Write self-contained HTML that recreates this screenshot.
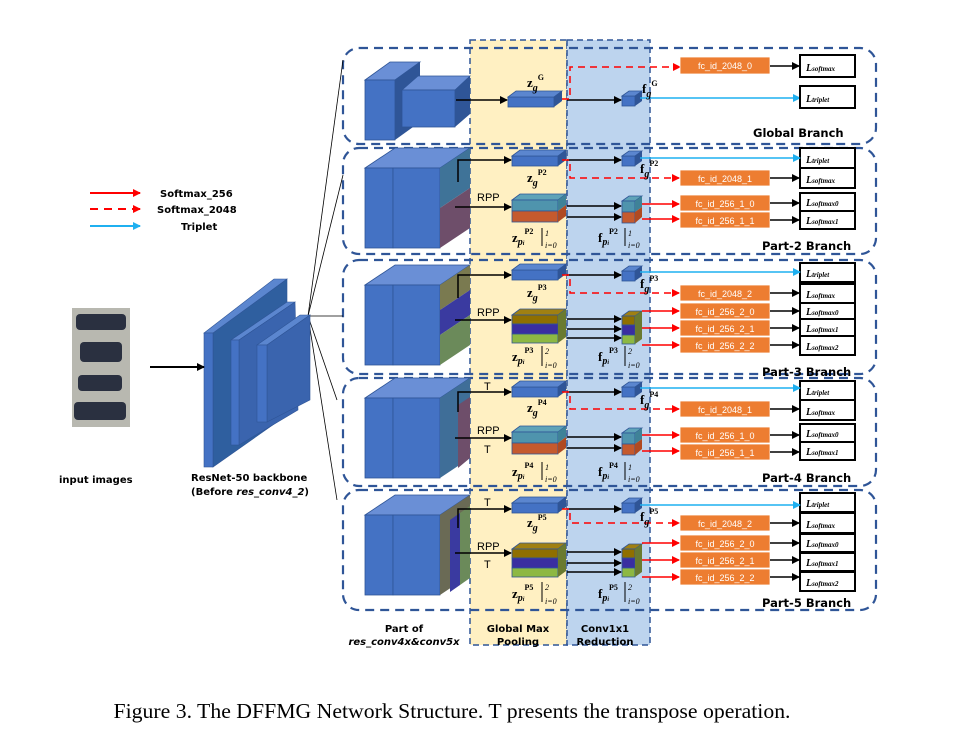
<!DOCTYPE html>
<html><head><meta charset="utf-8"><style>
html,body{margin:0;padding:0;background:#fff;}
svg{display:block;}
.b{font-family:"DejaVu Sans","Liberation Sans",sans-serif;font-weight:bold;}
.fc{font-family:"Liberation Sans",sans-serif;font-size:9px;fill:#fff;}
.m{font-family:"Liberation Serif",serif;font-weight:bold;font-style:italic;font-size:10px;}
.mz{font-family:"Liberation Serif",serif;font-weight:bold;font-size:13px;}
</style></head><body>
<svg width="955" height="739" viewBox="0 0 955 739" xmlns="http://www.w3.org/2000/svg">
<defs>
<marker id="ak" markerWidth="8" markerHeight="8" refX="7" refY="4" orient="auto" markerUnits="userSpaceOnUse"><path d="M0,0 L8,4 L0,8z" fill="#000"/></marker>
<marker id="ar" markerWidth="8" markerHeight="8" refX="7" refY="4" orient="auto" markerUnits="userSpaceOnUse"><path d="M0,0 L8,4 L0,8z" fill="#f00"/></marker>
<marker id="ac" markerWidth="8" markerHeight="8" refX="7" refY="4" orient="auto" markerUnits="userSpaceOnUse"><path d="M0,0 L8,4 L0,8z" fill="#1fb0f0"/></marker>
<g id="zg"><rect x="0" y="0" width="46" height="10" fill="#4472C4" stroke="#2F5597" stroke-width="0.8"/><polygon points="0,0 8,-6 54,-6 46,0" fill="#5b86cf" stroke="#2F5597" stroke-width="0.8"/><polygon points="46,0 54,-6 54,4 46,10" fill="#2F5597"/></g>
<g id="fg"><rect x="0" y="0" width="13" height="10" fill="#4472C4" stroke="#2F5597" stroke-width="0.8"/><polygon points="0,0 7,-5 20,-5 13,0" fill="#5b86cf" stroke="#2F5597" stroke-width="0.8"/><polygon points="13,0 20,-5 20,5 13,10" fill="#2F5597"/></g>
<g id="z2"><polygon points="0,0 8,-6 54,-6 46,0" fill="#5fa3b8" stroke="#2F5597" stroke-width="0.8"/><rect x="0" y="0" width="46" height="11" fill="#4f94ad" stroke="#2F5597" stroke-width="0.8"/><rect x="0" y="11" width="46" height="11" fill="#c55a2e" stroke="#2F5597" stroke-width="0.8"/><polygon points="46,0 54,-6 54,5 46,11" fill="#3f8298"/><polygon points="46,11 54,5 54,16 46,22" fill="#b04a22"/></g>
<g id="f2"><polygon points="0,0 7,-5 20,-5 13,0" fill="#5fa3b8" stroke="#2F5597" stroke-width="0.8"/><rect x="0" y="0" width="13" height="11" fill="#4f94ad" stroke="#2F5597" stroke-width="0.8"/><rect x="0" y="11" width="13" height="11" fill="#c55a2e" stroke="#2F5597" stroke-width="0.8"/><polygon points="13,0 20,-5 20,6 13,11" fill="#3f8298"/><polygon points="13,11 20,6 20,16 13,22" fill="#b04a22"/></g>
<g id="z3"><polygon points="0,0 8,-6 54,-6 46,0" fill="#a08012" stroke="#2F5597" stroke-width="0.8"/><rect x="0" y="0" width="46" height="9" fill="#8f6f00" stroke="#2F5597" stroke-width="0.8"/><rect x="0" y="9" width="46" height="10" fill="#3a2ea0" stroke="#2F5597" stroke-width="0.8"/><rect x="0" y="19" width="46" height="9" fill="#8db843" stroke="#2F5597" stroke-width="0.8"/><polygon points="46,0 54,-6 54,22 46,28" fill="#6a7a30"/></g>
<g id="f3"><polygon points="0,0 7,-5 20,-5 13,0" fill="#a08012" stroke="#2F5597" stroke-width="0.8"/><rect x="0" y="0" width="13" height="9" fill="#8f6f00" stroke="#2F5597" stroke-width="0.8"/><rect x="0" y="9" width="13" height="10" fill="#3a2ea0" stroke="#2F5597" stroke-width="0.8"/><rect x="0" y="19" width="13" height="9" fill="#8db843" stroke="#2F5597" stroke-width="0.8"/><polygon points="13,0 20,-5 20,23 13,28" fill="#6a7a30"/></g>
<g id="big"><polygon points="0,0 30,-20 105,-20 75,0" fill="#6a8fd6" stroke="#2F5597" stroke-width="0.8"/><rect x="0" y="0" width="28" height="80" fill="#4472C4" stroke="#2F5597" stroke-width="0.8"/><rect x="28" y="0" width="47" height="80" fill="#4472C4" stroke="#2F5597" stroke-width="0.8"/></g>
</defs>

<rect x="470" y="40" width="97" height="605" fill="#FFF0C2" stroke="#2F5597" stroke-width="1.5" stroke-dasharray="6,4"/>
<rect x="567" y="40" width="83" height="605" fill="#BDD4EE" stroke="#2F5597" stroke-width="1.5" stroke-dasharray="6,4"/>

<g fill="none" stroke="#2F5597" stroke-width="2.2" stroke-dasharray="9,6">
<rect x="343" y="48" width="533" height="96" rx="16"/>
<rect x="343" y="148" width="533" height="106" rx="16"/>
<rect x="343" y="260" width="533" height="114" rx="16"/>
<rect x="343" y="378" width="533" height="108" rx="16"/>
<rect x="343" y="490" width="533" height="120" rx="16"/>
</g>

<g stroke="#000" stroke-width="0.8">
<line x1="308" y1="316" x2="343" y2="60"/><line x1="308" y1="316" x2="343" y2="175"/><line x1="308" y1="316" x2="343" y2="316"/><line x1="308" y1="316" x2="337" y2="400"/><line x1="308" y1="316" x2="337" y2="500"/>
</g>
<g stroke="#2F5597" stroke-width="0.6">
<polygon points="204,333 274,279 287,279 217,333" fill="#5b86cf"/>
<polygon points="213,333 287,279 287,415 213,467" fill="#2F5f9f"/>
<rect x="204" y="333" width="9" height="134" fill="#4472C4"/>
<polygon points="231,340 287,302 295,302 239,340" fill="#5b86cf"/>
<polygon points="239,340 295,302 298,410 239,445" fill="#3a64ae"/>
<rect x="231" y="340" width="8" height="105" fill="#4472C4"/>
<polygon points="257,345 300,315 310,315 267,345" fill="#5b86cf"/>
<polygon points="267,345 310,315 310,400 267,422" fill="#3a64ae"/>
<rect x="257" y="345" width="10" height="77" fill="#4472C4"/>
</g>
<line x1="150" y1="367" x2="204" y2="367" stroke="#000" stroke-width="2" marker-end="url(#ak)"/>
<rect x="72" y="308" width="58" height="119" fill="#b8b8b0"/>
<g fill="#2a3040"><rect x="76" y="314" width="50" height="16" rx="4"/><rect x="80" y="342" width="42" height="20" rx="4"/><rect x="78" y="375" width="44" height="16" rx="4"/><rect x="74" y="402" width="52" height="18" rx="4"/></g>

<line x1="90" y1="193" x2="140" y2="193" stroke="#f00" stroke-width="2" marker-end="url(#ar)"/>
<line x1="90" y1="209" x2="140" y2="209" stroke="#f00" stroke-width="2" stroke-dasharray="8,6" marker-end="url(#ar)"/>
<line x1="90" y1="226" x2="140" y2="226" stroke="#1fb0f0" stroke-width="2" marker-end="url(#ac)"/>
<text class="b" font-size="10" x="160" y="197">Softmax_256</text>
<text class="b" font-size="10" x="157" y="213">Softmax_2048</text>
<text class="b" font-size="10" x="181" y="230">Triplet</text>
<text class="b" font-size="10" x="59" y="483">input images</text>
<text class="b" font-size="10" x="191" y="481">ResNet-50 backbone</text>
<text class="b" font-size="10" x="191" y="495">(Before <tspan font-style="italic">res_conv4_2</tspan>)</text>
<g text-anchor="middle">
<text class="b" font-size="10" x="404" y="632">Part of</text>
<text class="b" font-size="10" x="404" y="645" font-style="italic">res_conv4x&amp;conv5x</text>
<text class="b" font-size="10" x="518" y="632">Global Max</text>
<text class="b" font-size="10" x="518" y="645">Pooling</text>
<text class="b" font-size="10" x="605" y="632">Conv1x1</text>
<text class="b" font-size="10" x="605" y="645">Reduction</text>
</g>
<text x="452" y="718" text-anchor="middle" font-family="'Liberation Serif',serif" font-size="21.5" textLength="677" lengthAdjust="spacingAndGlyphs">Figure 3. The DFFMG Network Structure. T presents the transpose operation.</text>

<!-- GLOBAL -->
<polygon points="365,80 390,62 420,62 395,80" fill="#6a8fd6" stroke="#2F5597" stroke-width="0.8"/>
<rect x="365" y="80" width="30" height="60" fill="#4472C4" stroke="#2F5597" stroke-width="0.8"/>
<polygon points="395,80 420,62 420,122 395,140" fill="#2F5597"/>
<polygon points="402,90 418,76 470,76 455,90" fill="#6a8fd6" stroke="#2F5597" stroke-width="0.8"/>
<rect x="402" y="90" width="53" height="37" fill="#4472C4" stroke="#2F5597" stroke-width="0.8"/>
<polygon points="455,90 470,76 470,114 455,127" fill="#2F5597"/>
<use href="#zg" x="508" y="97"/><use href="#fg" x="622" y="96"/>
<line x1="456" y1="100" x2="507" y2="100" stroke="#000" stroke-width="1.5" marker-end="url(#ak)"/>
<line x1="567" y1="100" x2="621" y2="100" stroke="#000" stroke-width="1.5" marker-end="url(#ak)"/>
<line x1="640" y1="98" x2="800" y2="98" stroke="#1fb0f0" stroke-width="1.5" marker-end="url(#ac)"/>
<polyline points="562,99 570,99 570,67 680,67" fill="none" stroke="#f00" stroke-width="1.5" stroke-dasharray="7,5" marker-end="url(#ar)"/>
<text class="mz" x="527" y="87">z<tspan class="m" font-size="9" dy="4">g</tspan><tspan font-size="8" dy="-11">G</tspan></text>
<text class="mz" x="642" y="93">f<tspan class="m" font-size="9" dy="4">g</tspan><tspan font-size="8" dy="-11">G</tspan></text>

<g fill="#ED7D31" stroke="#fff" stroke-width="0.8">
<rect x="680" y="57" width="90" height="17"/>
<rect x="680" y="170" width="90" height="16"/><rect x="680" y="195" width="90" height="16"/><rect x="680" y="212" width="90" height="16"/>
<rect x="680" y="285" width="90" height="16"/><rect x="680" y="303" width="90" height="16"/><rect x="680" y="320" width="90" height="16"/><rect x="680" y="337" width="90" height="16"/>
<rect x="680" y="401" width="90" height="16"/><rect x="680" y="427" width="90" height="16"/><rect x="680" y="444" width="90" height="16"/>
<rect x="680" y="515" width="90" height="16"/><rect x="680" y="535" width="90" height="16"/><rect x="680" y="552" width="90" height="16"/><rect x="680" y="569" width="90" height="16"/>
</g>
<g class="fc" text-anchor="middle">
<text x="725" y="69">fc_id_2048_0</text>
<text x="725" y="182">fc_id_2048_1</text><text x="725" y="207">fc_id_256_1_0</text><text x="725" y="224">fc_id_256_1_1</text>
<text x="725" y="297">fc_id_2048_2</text><text x="725" y="315">fc_id_256_2_0</text><text x="725" y="332">fc_id_256_2_1</text><text x="725" y="349">fc_id_256_2_2</text>
<text x="725" y="413">fc_id_2048_1</text><text x="725" y="439">fc_id_256_1_0</text><text x="725" y="456">fc_id_256_1_1</text>
<text x="725" y="527">fc_id_2048_2</text><text x="725" y="547">fc_id_256_2_0</text><text x="725" y="564">fc_id_256_2_1</text><text x="725" y="581">fc_id_256_2_2</text>
</g>
<g fill="#fff" stroke="#000" stroke-width="2">
<rect x="800" y="55" width="55" height="22"/><rect x="800" y="86" width="55" height="22"/>
<rect x="800" y="148" width="55" height="20"/><rect x="800" y="168" width="55" height="20"/><rect x="800" y="193" width="55" height="18"/><rect x="800" y="211" width="55" height="18"/>
<rect x="800" y="263" width="55" height="19"/><rect x="800" y="284" width="55" height="19"/><rect x="800" y="303" width="55" height="16"/><rect x="800" y="319" width="55" height="17"/><rect x="800" y="336" width="55" height="19"/>
<rect x="800" y="381" width="55" height="19"/><rect x="800" y="400" width="55" height="20"/><rect x="800" y="424" width="55" height="18"/><rect x="800" y="442" width="55" height="18"/>
<rect x="800" y="493" width="55" height="19"/><rect x="800" y="513" width="55" height="20"/><rect x="800" y="534" width="55" height="18"/><rect x="800" y="553" width="55" height="18"/><rect x="800" y="572" width="55" height="19"/>
</g>
<g class="m" font-size="10">
<text x="806" y="71">L<tspan font-size="7">softmax</tspan></text><text x="806" y="102">L<tspan font-size="7">triplet</tspan></text>
<text x="806" y="163">L<tspan font-size="7">triplet</tspan></text><text x="806" y="183">L<tspan font-size="7">softmax</tspan></text><text x="806" y="206">L<tspan font-size="7">softmax0</tspan></text><text x="806" y="224">L<tspan font-size="7">softmax1</tspan></text>
<text x="806" y="277">L<tspan font-size="7">triplet</tspan></text><text x="806" y="298">L<tspan font-size="7">softmax</tspan></text><text x="806" y="315">L<tspan font-size="7">softmax0</tspan></text><text x="806" y="332">L<tspan font-size="7">softmax1</tspan></text><text x="806" y="350">L<tspan font-size="7">softmax2</tspan></text>
<text x="806" y="395">L<tspan font-size="7">triplet</tspan></text><text x="806" y="415">L<tspan font-size="7">softmax</tspan></text><text x="806" y="437">L<tspan font-size="7">softmax0</tspan></text><text x="806" y="455">L<tspan font-size="7">softmax1</tspan></text>
<text x="806" y="507">L<tspan font-size="7">triplet</tspan></text><text x="806" y="528">L<tspan font-size="7">softmax</tspan></text><text x="806" y="547">L<tspan font-size="7">softmax0</tspan></text><text x="806" y="566">L<tspan font-size="7">softmax1</tspan></text><text x="806" y="586">L<tspan font-size="7">softmax2</tspan></text>
</g>
<g stroke="#000" stroke-width="1.5" marker-end="url(#ak)">
<line x1="770" y1="66" x2="799" y2="66"/>
<line x1="770" y1="178" x2="799" y2="178"/><line x1="770" y1="203" x2="799" y2="203"/><line x1="770" y1="220" x2="799" y2="220"/>
<line x1="770" y1="293" x2="799" y2="293"/><line x1="770" y1="311" x2="799" y2="311"/><line x1="770" y1="328" x2="799" y2="328"/><line x1="770" y1="345" x2="799" y2="345"/>
<line x1="770" y1="409" x2="799" y2="409"/><line x1="770" y1="435" x2="799" y2="435"/><line x1="770" y1="452" x2="799" y2="452"/>
<line x1="770" y1="523" x2="799" y2="523"/><line x1="770" y1="543" x2="799" y2="543"/><line x1="770" y1="560" x2="799" y2="560"/><line x1="770" y1="577" x2="799" y2="577"/>
</g>

<use href="#big" x="365" y="168"/>
<polygon points="440,168 470,148 470,188 440,208" fill="#3f7398"/>
<polygon points="440,208 470,188 470,228 440,248" fill="#6e4e6a"/>
<use href="#zg" x="512" y="156"/><use href="#fg" x="622" y="156"/>
<use href="#z2" x="512" y="200"/><use href="#f2" x="622" y="201"/>
<use href="#big" x="365" y="285"/>
<polygon points="440,285 470,265 470,290 440,310" fill="#7a7a50"/>
<polygon points="440,310 470,290 470,315 440,335" fill="#3a3aa0"/>
<polygon points="440,335 470,315 470,345 440,365" fill="#6b8a5a"/>
<use href="#zg" x="512" y="270"/><use href="#fg" x="622" y="271"/>
<use href="#z3" x="512" y="315"/><use href="#f3" x="622" y="316"/>
<use href="#big" x="365" y="398"/>
<polygon points="440,398 470,378 470,458 440,478" fill="#3f6e98"/>
<polygon points="458,405 470,397 470,458 458,468" fill="#6e4e6a"/>
<use href="#zg" x="512" y="387"/><use href="#fg" x="622" y="387"/>
<use href="#z2" x="512" y="432"/><use href="#f2" x="622" y="433"/>
<use href="#big" x="365" y="515"/>
<polygon points="440,515 470,495 470,575 440,595" fill="#6a6a55"/>
<polygon points="450,520 460,513 460,585 450,592" fill="#3a3aa0"/>
<polygon points="460,513 470,506 470,578 460,585" fill="#6b8a5a"/>
<use href="#zg" x="512" y="503"/><use href="#fg" x="622" y="503"/>
<use href="#z3" x="512" y="549"/><use href="#f3" x="622" y="549"/>

<g stroke="#000" stroke-width="1.5" fill="none">
<polyline points="458,182 458,160 511,160" marker-end="url(#ak)"/>
<line x1="455" y1="207" x2="511" y2="207" marker-end="url(#ak)"/>
<line x1="567" y1="160" x2="621" y2="160" marker-end="url(#ak)"/>
<line x1="567" y1="206" x2="621" y2="206" marker-end="url(#ak)"/>
<line x1="567" y1="217" x2="621" y2="217" marker-end="url(#ak)"/>
<polyline points="458,298 458,275 511,275" marker-end="url(#ak)"/>
<line x1="455" y1="320" x2="511" y2="320" marker-end="url(#ak)"/>
<line x1="567" y1="275" x2="621" y2="275" marker-end="url(#ak)"/>
<line x1="567" y1="319" x2="621" y2="319" marker-end="url(#ak)"/>
<line x1="567" y1="329" x2="621" y2="329" marker-end="url(#ak)"/>
<line x1="567" y1="338" x2="621" y2="338" marker-end="url(#ak)"/>
<polyline points="458,412 458,392 511,392" marker-end="url(#ak)"/>
<line x1="455" y1="438" x2="511" y2="438" marker-end="url(#ak)"/>
<line x1="567" y1="392" x2="621" y2="392" marker-end="url(#ak)"/>
<line x1="567" y1="437" x2="621" y2="437" marker-end="url(#ak)"/>
<line x1="567" y1="448" x2="621" y2="448" marker-end="url(#ak)"/>
<polyline points="458,528 458,509 511,509" marker-end="url(#ak)"/>
<line x1="455" y1="553" x2="511" y2="553" marker-end="url(#ak)"/>
<line x1="567" y1="509" x2="621" y2="509" marker-end="url(#ak)"/>
<line x1="567" y1="552" x2="621" y2="552" marker-end="url(#ak)"/>
<line x1="567" y1="563" x2="621" y2="563" marker-end="url(#ak)"/>
<line x1="567" y1="572" x2="621" y2="572" marker-end="url(#ak)"/>
</g>
<g stroke="#1fb0f0" stroke-width="1.5" marker-end="url(#ac)">
<line x1="640" y1="158" x2="800" y2="158"/><line x1="640" y1="272" x2="800" y2="272"/><line x1="640" y1="388" x2="800" y2="388"/><line x1="640" y1="505" x2="800" y2="505"/>
</g>
<g stroke="#f00" stroke-width="1.5" fill="none" stroke-dasharray="7,5" marker-end="url(#ar)">
<polyline points="562,160 570,160 570,178 679,178"/>
<polyline points="562,275 570,275 570,293 679,293"/>
<polyline points="562,392 570,392 570,409 679,409"/>
<polyline points="562,509 570,509 570,523 679,523"/>
</g>
<g stroke="#f00" stroke-width="1.5" marker-end="url(#ar)">
<line x1="642" y1="204" x2="679" y2="204"/><line x1="642" y1="219" x2="679" y2="219"/>
<line x1="642" y1="311" x2="679" y2="311"/><line x1="642" y1="328" x2="679" y2="328"/><line x1="642" y1="345" x2="679" y2="345"/>
<line x1="642" y1="435" x2="679" y2="435"/><line x1="642" y1="451" x2="679" y2="451"/>
<line x1="642" y1="543" x2="679" y2="543"/><line x1="642" y1="560" x2="679" y2="560"/><line x1="642" y1="577" x2="679" y2="577"/>
</g>

<g font-family="Liberation Sans,sans-serif" font-size="11">
<text x="477" y="201">RPP</text>
<text x="477" y="316">RPP</text>
<text x="484" y="390">T</text><text x="477" y="434">RPP</text><text x="484" y="453">T</text>
<text x="484" y="506">T</text><text x="477" y="550">RPP</text><text x="484" y="568">T</text>
</g>
<g class="mz">
<text x="527" y="182">z<tspan class="m" font-size="9" dy="4">g</tspan><tspan font-size="8" dy="-11">P2</tspan></text>
<text x="640" y="173">f<tspan class="m" font-size="9" dy="4">g</tspan><tspan font-size="8" dy="-11">P2</tspan></text>
<text x="512" y="242">z<tspan class="m" font-size="9" dy="3">p<tspan font-size="6">i</tspan></tspan><tspan font-size="8" dy="-11">P2</tspan></text>
<text x="598" y="242">f<tspan class="m" font-size="9" dy="3">p<tspan font-size="6">i</tspan></tspan><tspan font-size="8" dy="-11">P2</tspan></text>
<text x="527" y="297">z<tspan class="m" font-size="9" dy="4">g</tspan><tspan font-size="8" dy="-11">P3</tspan></text>
<text x="640" y="288">f<tspan class="m" font-size="9" dy="4">g</tspan><tspan font-size="8" dy="-11">P3</tspan></text>
<text x="512" y="361">z<tspan class="m" font-size="9" dy="3">p<tspan font-size="6">i</tspan></tspan><tspan font-size="8" dy="-11">P3</tspan></text>
<text x="598" y="361">f<tspan class="m" font-size="9" dy="3">p<tspan font-size="6">i</tspan></tspan><tspan font-size="8" dy="-11">P3</tspan></text>
<text x="527" y="412">z<tspan class="m" font-size="9" dy="4">g</tspan><tspan font-size="8" dy="-11">P4</tspan></text>
<text x="640" y="404">f<tspan class="m" font-size="9" dy="4">g</tspan><tspan font-size="8" dy="-11">P4</tspan></text>
<text x="512" y="476">z<tspan class="m" font-size="9" dy="3">p<tspan font-size="6">i</tspan></tspan><tspan font-size="8" dy="-11">P4</tspan></text>
<text x="598" y="476">f<tspan class="m" font-size="9" dy="3">p<tspan font-size="6">i</tspan></tspan><tspan font-size="8" dy="-11">P4</tspan></text>
<text x="527" y="527">z<tspan class="m" font-size="9" dy="4">g</tspan><tspan font-size="8" dy="-11">P5</tspan></text>
<text x="640" y="521">f<tspan class="m" font-size="9" dy="4">g</tspan><tspan font-size="8" dy="-11">P5</tspan></text>
<text x="512" y="598">z<tspan class="m" font-size="9" dy="3">p<tspan font-size="6">i</tspan></tspan><tspan font-size="8" dy="-11">P5</tspan></text>
<text x="598" y="598">f<tspan class="m" font-size="9" dy="3">p<tspan font-size="6">i</tspan></tspan><tspan font-size="8" dy="-11">P5</tspan></text>
</g>
<g stroke="#000" stroke-width="1">
<line x1="542" y1="228" x2="542" y2="246"/><line x1="625" y1="228" x2="625" y2="246"/>
<line x1="542" y1="346" x2="542" y2="366"/><line x1="625" y1="346" x2="625" y2="366"/>
<line x1="542" y1="462" x2="542" y2="480"/><line x1="625" y1="462" x2="625" y2="480"/>
<line x1="542" y1="582" x2="542" y2="602"/><line x1="625" y1="582" x2="625" y2="602"/>
</g>
<g font-family="Liberation Serif,serif" font-size="8" font-style="italic">
<text x="545" y="236">1</text><text x="545" y="248">i=0</text><text x="628" y="236">1</text><text x="628" y="248">i=0</text>
<text x="545" y="354">2</text><text x="545" y="368">i=0</text><text x="628" y="354">2</text><text x="628" y="368">i=0</text>
<text x="545" y="470">1</text><text x="545" y="482">i=0</text><text x="628" y="470">1</text><text x="628" y="482">i=0</text>
<text x="545" y="590">2</text><text x="545" y="604">i=0</text><text x="628" y="590">2</text><text x="628" y="604">i=0</text>
</g>
<g class="b" font-size="11.5">
<text x="753" y="137">Global Branch</text>
<text x="762" y="250">Part-2 Branch</text>
<text x="762" y="376">Part-3 Branch</text>
<text x="762" y="482">Part-4 Branch</text>
<text x="762" y="607">Part-5 Branch</text>
</g>
</svg>
</body></html>
